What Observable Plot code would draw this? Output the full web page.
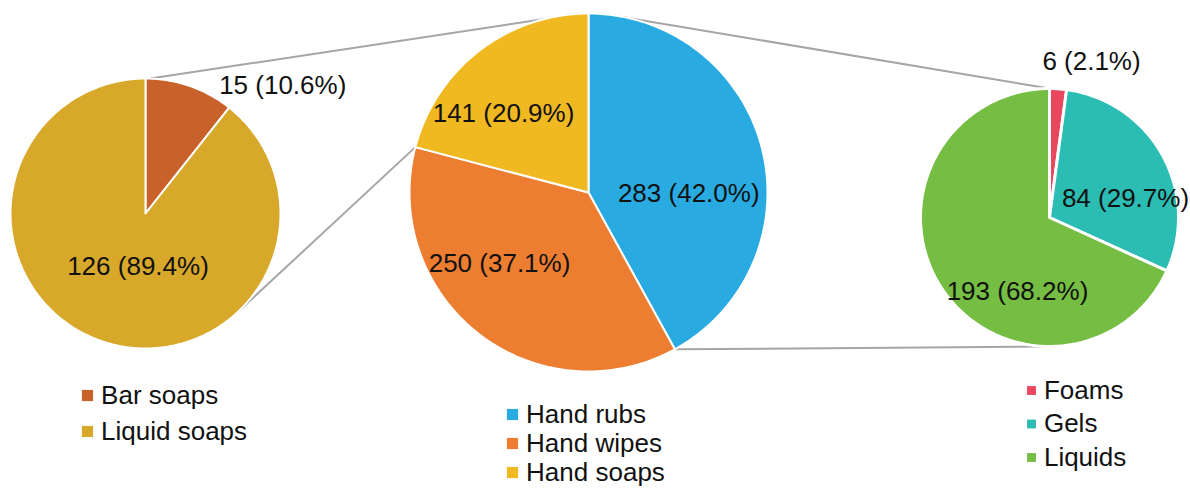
<!DOCTYPE html>
<html>
<head>
<meta charset="utf-8">
<script src="https://cdn.jsdelivr.net/npm/d3@7"></script>
<script src="https://cdn.jsdelivr.net/npm/@observablehq/plot@0.6"></script>
<style>
  html, body { margin: 0; padding: 0; background: #fff; }
  #chart svg { display: block; }
</style>
</head>
<body>
<div id="chart"></div>
<script>
// Hand hygiene products: main split with breakdowns of soaps (left) and rubs (right)
const mainCategories = ["Hand rubs", "Hand wipes", "Hand soaps"];
const mainValues = [283, 250, 141];
const mainColors = ["#29abe2", "#ed7d31", "#f0b922"];

const soapCategories = ["Bar soaps", "Liquid soaps"];
const soapValues = [15, 126];
const soapColors = ["#c8612a", "#d7a82a"];

const rubCategories = ["Foams", "Gels", "Liquids"];
const rubValues = [6, 84, 193];
const rubColors = ["#e8475e", "#2bbcb3", "#75bd43"];

// Layout of each pie: centre, radius, slice separator width, label placement (compass angle, radius factor)
const pies = [
  {key: "soaps", categories: soapCategories, values: soapValues, cx: 145, cy: 213, r: 135, gap: 2,
   labelAngle: [47, 188], labelDist: [1.39, 0.40],
   legend: {x: 87, y: 395, step: 36, size: 6.3}},
  {key: "main", categories: mainCategories, values: mainValues, cx: 588, cy: 192, r: 179, gap: 2,
   labelAngle: [90.6, 231.4, 312.9], labelDist: [0.56, 0.636, 0.648],
   legend: {x: 512, y: 414, step: 29, size: 6.3}},
  {key: "rubs", categories: rubCategories, values: rubValues, cx: 1049, cy: 217, r: 129, gap: 3,
   labelAngle: [15.1, 76, 203.4], labelDist: [1.25, 0.607, 0.625],
   legend: {x: 1031, y: 390, step: 33.5, size: 5}}
];

const rad = (deg) => deg * Math.PI / 180;
const polar = (p, deg, dist) => ({x: p.cx + dist * Math.sin(rad(deg)), y: p.cy - dist * Math.cos(rad(deg))});

// Slices start at 12 o'clock and run clockwise
const wedgePoints = [];
const labels = [];
const legendItems = [];
const bounds = {};
for (const p of pies) {
  const total = d3.sum(p.values);
  let start = 0;
  p.slices = [];
  p.values.forEach((v, i) => {
    const sweep = 360 * v / total;
    const end = start + sweep;
    const cat = p.categories[i];
    p.slices.push({cat, start, end});
    wedgePoints.push({cat, pie: p.key, ...polar(p, 0, 0)});
    const n = Math.max(2, Math.ceil(sweep));
    for (let k = 0; k <= n; ++k) {
      wedgePoints.push({cat, pie: p.key, ...polar(p, start + sweep * k / n, p.r)});
    }
    const pos = polar(p, p.labelAngle[i], p.labelDist[i] * p.r);
    labels.push({...pos, text: `${v} (${(100 * v / total).toFixed(1)}%)`});
    legendItems.push({cat, x: p.legend.x, y: p.legend.y + i * p.legend.step, size: p.legend.size});
    start = end;
  });
  bounds[p.key] = p;
}

// Connector lines between the main pie and its two breakdown pies
const soapSlice = bounds.main.slices[2];
const rubSlice = bounds.main.slices[0];
const connectors = [
  [polar(bounds.soaps, 2, bounds.soaps.r), polar(bounds.main, -3, bounds.main.r)],
  [polar(bounds.soaps, 137, bounds.soaps.r), polar(bounds.main, soapSlice.start, bounds.main.r)],
  [polar(bounds.main, 6, bounds.main.r), polar(bounds.rubs, 0, bounds.rubs.r)],
  [polar(bounds.main, rubSlice.end, bounds.main.r), polar(bounds.rubs, 180, bounds.rubs.r)]
].map(([a, b]) => ({x1: a.x, y1: a.y, x2: b.x, y2: b.y}));

const W = 1190, H = 491;
const font = "'Liberation Sans', Arial, sans-serif";

const chart = Plot.plot({
  width: W,
  height: H,
  margin: 0,
  x: {domain: [0, W], range: [0, W], axis: null},
  y: {domain: [0, H], range: [0, H], axis: null},
  color: {
    domain: [...mainCategories, ...soapCategories, ...rubCategories],
    range: [...mainColors, ...soapColors, ...rubColors]
  },
  style: {fontFamily: font, background: "#fff"},
  marks: [
    Plot.link(connectors, {x1: "x1", y1: "y1", x2: "x2", y2: "y2", stroke: "#a6a6a6", strokeWidth: 2}),
    ...pies.map((p) =>
      Plot.line(wedgePoints.filter((d) => d.pie === p.key), {
        x: "x", y: "y", z: "cat", fill: "cat", curve: "linear-closed",
        stroke: "#fff", strokeWidth: p.gap, strokeLinejoin: "round"
      })
    ),
    Plot.text(labels, {x: "x", y: "y", text: "text", fontSize: 26, fill: "#111"}),
    ...pies.map((p) =>
      Plot.dot(legendItems.filter((d) => p.categories.includes(d.cat)), {
        x: "x", y: "y", symbol: "square", r: p.legend.size, fill: "cat", stroke: "none"
      })
    ),
    Plot.text(legendItems, {
      x: (d) => d.x + d.size * 1.77 / 2 + 8, y: "y", text: "cat",
      textAnchor: "start", fontSize: 26, fill: "#111"
    })
  ]
});

document.getElementById("chart").appendChild(chart);
</script>
</body>
</html>
